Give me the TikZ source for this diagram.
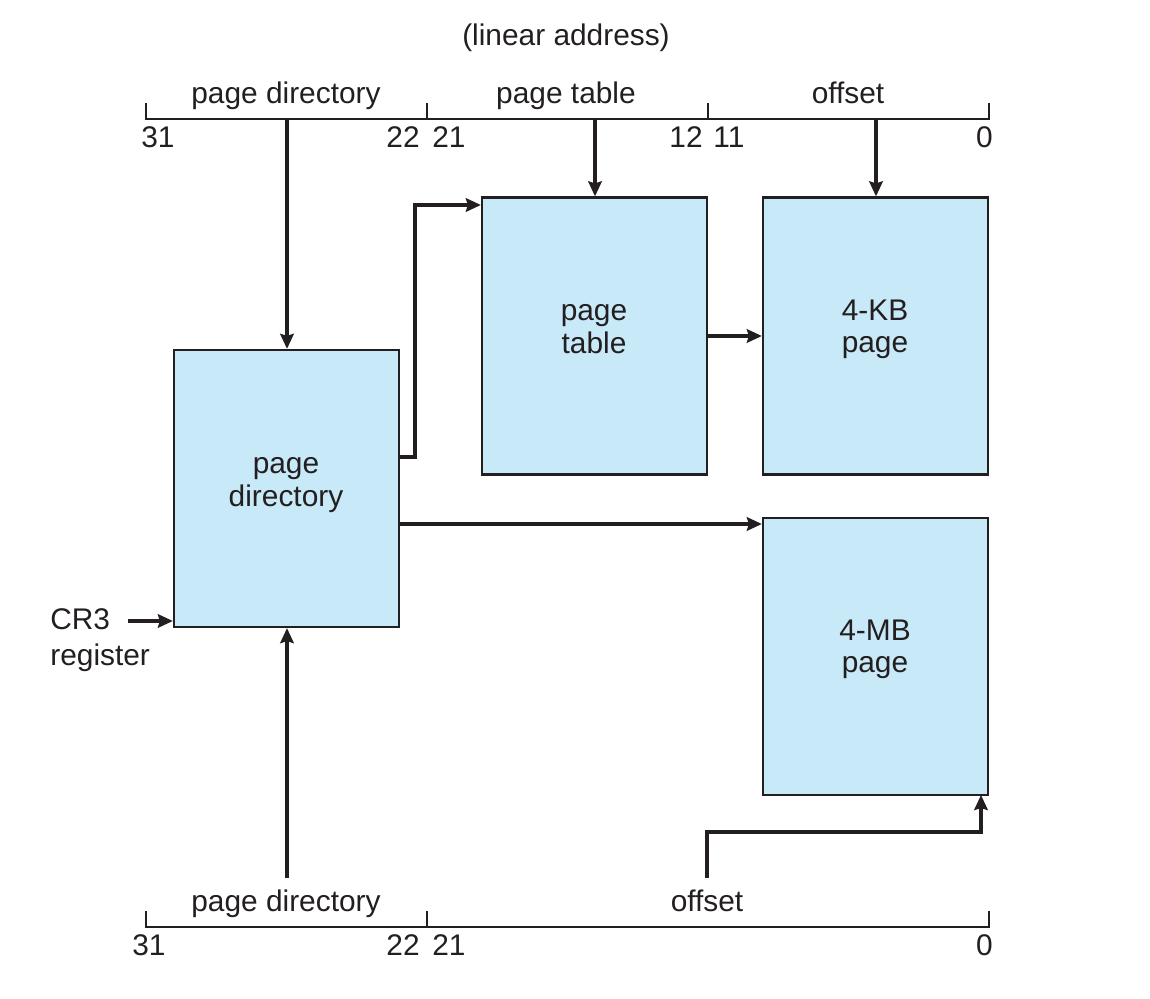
\documentclass[tikz,border=0pt]{standalone}
\usepackage{fontspec}
\setmainfont{Liberation Sans}
\usetikzlibrary{arrows.meta}
\definecolor{boxfill}{HTML}{C7E9F8}
\definecolor{ink}{HTML}{231F20}
\begin{document}
\begin{tikzpicture}[x=0.02cm,y=-0.02cm,
  font=\fontsize{17}{18.4}\selectfont,
  every node/.style={text=ink},
  membox/.style={draw=ink,line width=1.3pt,fill=boxfill,minimum width=4.5cm,minimum height=5.54cm,inner sep=0pt},
  boxtext/.style={inner sep=0pt,align=center},
  lbl/.style={inner sep=0pt},
  bar/.style={draw=ink,line width=1.3pt},
  arr/.style={draw=ink,line width=2.1pt,-{Stealth[length=0.3cm,width=0.27cm,inset=0.04cm]}}]
\useasboundingbox (0,0) rectangle (1150,999);

% boxes
\node[membox] (pd) at (286.5,488.5) {};
\node[membox] (pt) at (594.5,336) {};
\node[membox] (kb) at (875.5,336) {};
\node[membox] (mb) at (875.5,656.5) {};
\node[boxtext] (pdt) at (286,485) {page\\directory};
\node[boxtext] (ptt) at (594,329) {page\\table};
\node[boxtext] (kbt) at (875,329) {4-KB\\page};
\node[boxtext] (mbt) at (875,649) {4-MB\\page};

% top linear address bar
\node[lbl,anchor=base] (la) at (566,46) {(linear address)};
\coordinate (t0) at (146,119);
\coordinate (t1) at (427,119);
\coordinate (t2) at (708,119);
\coordinate (t3) at (989,119);
\draw[bar] (146,103) -- (t0) -- (t3) -- (989,103);
\draw[bar] (t1) -- (427,103);
\draw[bar] (t2) -- (708,103);
\node[lbl,anchor=base] (tpd) at (286,104) {page directory};
\node[lbl,anchor=base] (tpt) at (566,104) {page table};
\node[lbl,anchor=base] (tof) at (848,104) {offset};
\node[lbl,anchor=base west] (n31) at (141,148) {31};
\node[lbl,anchor=base east] (n22) at (420,148) {22};
\node[lbl,anchor=base west] (n21) at (432,148) {21};
\node[lbl,anchor=base east] (n12) at (703,148) {12};
\node[lbl,anchor=base west] (n11) at (713,148) {11};
\node[lbl,anchor=base east] (n0) at (993,148) {0};

\coordinate (a1) at (287,119);
\coordinate (a2) at (595,119);
\coordinate (a3) at (876,119);
\draw[arr] (a1) -- (a1 |- pd.north);
\draw[arr] (a2) -- (a2 |- pt.north);
\draw[arr] (a3) -- (a3 |- kb.north);

% connections between boxes
\coordinate (pdo1) at (399,457);
\draw[arr] (pdo1) -- (415,457) -- (415,205) -- (pt.west |- 415,205);
\draw[arr] (pt.east) -- (kb.west);
\coordinate (pdo2) at (399,524);
\draw[arr] (pdo2) -- (mb.west |- pdo2);

% CR3
\node[lbl,anchor=west,align=left] (cr3) at (50,640) {CR3\\[2pt]register};
\coordinate (cr3s) at (128,621);
\draw[arr] (cr3s) -- (pd.west |- cr3s);

% bottom bar
\coordinate (b0) at (146,927);
\coordinate (b1) at (427,927);
\coordinate (b3) at (989,927);
\draw[bar] (146,911) -- (b0) -- (b3) -- (989,911);
\draw[bar] (b1) -- (427,911);
\node[lbl,anchor=base] (bpd) at (286,911) {page directory};
\node[lbl,anchor=base] (bof) at (707,911) {offset};
\node[lbl,anchor=base west] (m31) at (132,955) {31};
\node[lbl,anchor=base east] (m22) at (420,955) {22};
\node[lbl,anchor=base west] (m21) at (432,955) {21};
\node[lbl,anchor=base east] (m0) at (993,955) {0};

\coordinate (b4) at (287,878);
\draw[arr] (b4) -- (b4 |- pd.south);
\coordinate (of1) at (707,878);
\draw[arr] (of1) -- (707,832) -- (981,832) -- (981,795);
\end{tikzpicture}
\end{document}
